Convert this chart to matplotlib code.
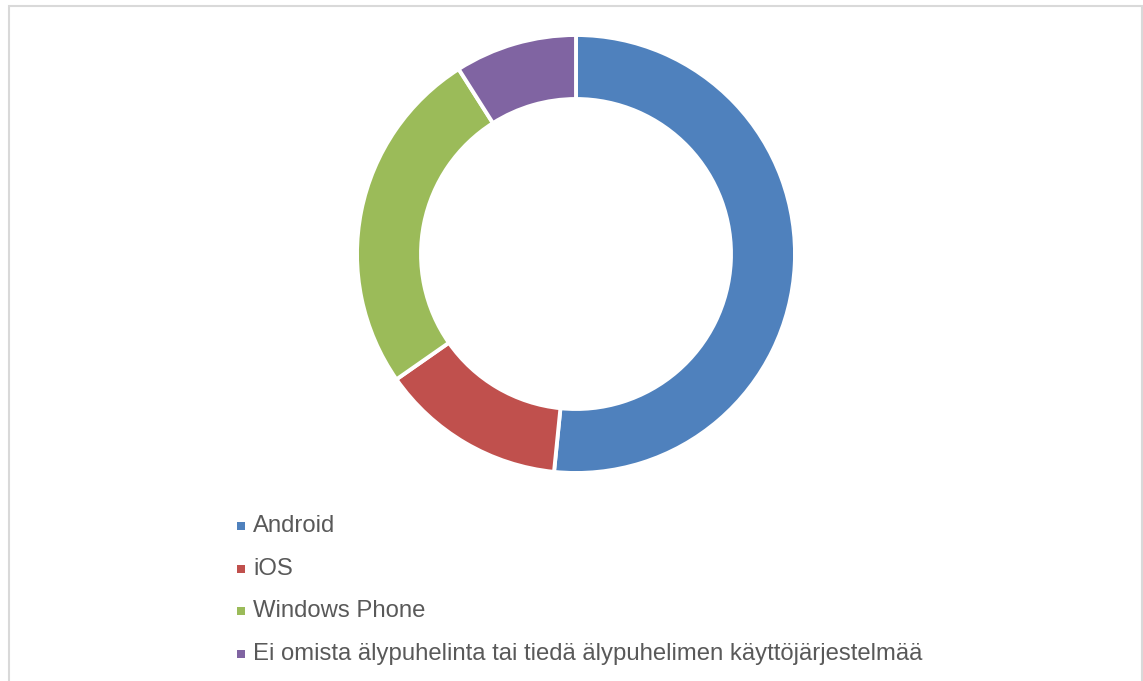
import matplotlib
matplotlib.use("Agg")
import matplotlib.pyplot as plt
from matplotlib.patches import Rectangle

labels = ["Android", "iOS", "Windows Phone",
          "Ei omista älypuhelinta tai tiedä älypuhelimen käyttöjärjestelmää"]
values = [51.6, 13.7, 25.7, 9.0]
colors = ["#4F81BD", "#C0504D", "#9BBB59", "#8064A2"]

W, H = 1143, 681
fig = plt.figure(figsize=(W / 100, H / 100), dpi=100)
fig.patch.set_facecolor("white")

# chart border
fig.patches.append(Rectangle((8.5 / W, -0.1), (1142 - 8.5) / W, (H - 6) / H + 0.1,
                             transform=fig.transFigure, fill=False,
                             edgecolor="#D9D9D9", linewidth=1.5))

cx, cy, r = 576, 254, 219
ax = fig.add_axes([(cx - r) / W, (H - cy - r) / H, 2 * r / W, 2 * r / H])
ax.pie(values, colors=colors, startangle=90, counterclock=False, radius=1,
       wedgeprops=dict(width=64 / 219, edgecolor="white", linewidth=2.8))
ax.set_xlim(-1, 1)
ax.set_ylim(-1, 1)
ax.set_aspect("equal")
ax.axis("off")

# legend
y0, dy = 526, 42.7
for i, (lab, col) in enumerate(zip(labels, colors)):
    y = y0 + i * dy
    fig.patches.append(Rectangle((237 / W, (H - y - 4) / H), 8 / W, 8 / H,
                                 transform=fig.transFigure, facecolor=col,
                                 edgecolor="none"))
    fig.text(253 / W, (H - y) / H, lab, fontsize=17.2, color="#595959",
             family="Liberation Sans", va="center", ha="left")

fig.savefig("out.png", dpi=100, facecolor="white")
